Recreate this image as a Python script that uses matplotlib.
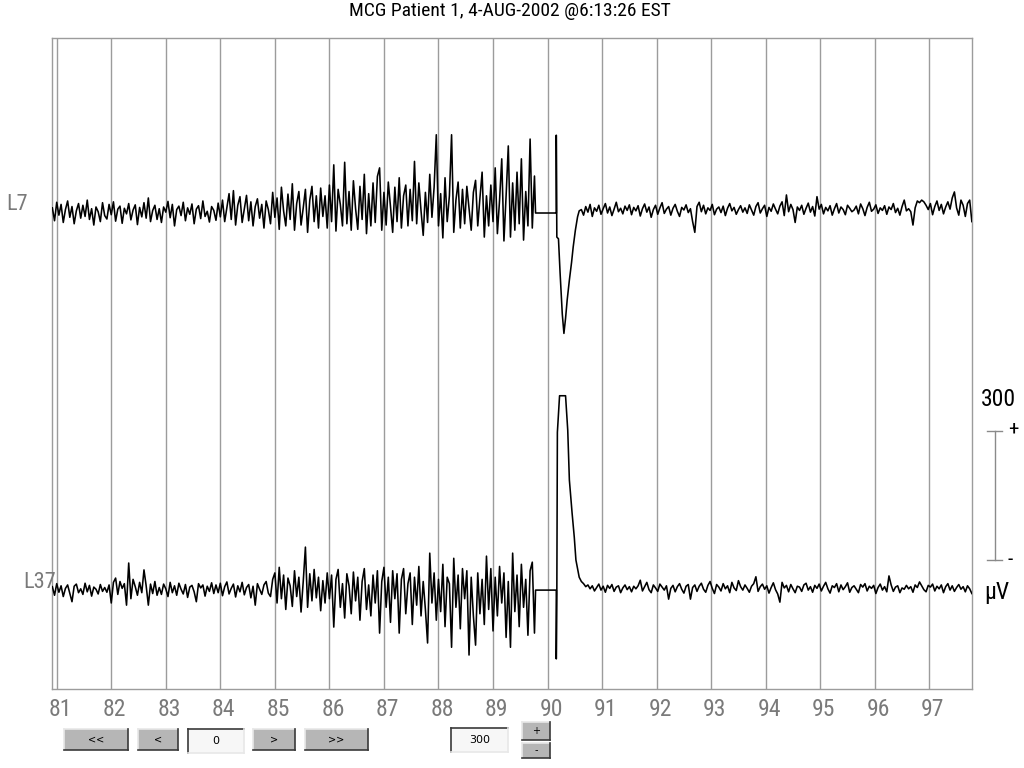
import numpy as np
import matplotlib
matplotlib.use("Agg")
import matplotlib.pyplot as plt
from matplotlib import font_manager as fm
from matplotlib.patches import Rectangle
from matplotlib.lines import Line2D

# ------------------------------ Data (µV, relative to channel baseline) ------------------------------

title = "MCG Patient 1, 4-AUG-2002 @6:13:26 EST"
channels = ["L7", "L37"]
seconds = list(range(81, 98))
dt = 0.04

# pre-event noise, sampled every 0.04 s from 80.92 s
l7_pre = [
    12, -18, 25, -5, 20, -22, 8, 28, -10, 15, -25, 5, 22, -12, 18, -8, 30, -15, 10, -28, 14, 3, -20, 24, -6,
    -14, 20, -4, 26, -19, 9, 16, -24, 11, -2, 22, -16, 7, 19, -27, 13, -9, 24, -12, 35, -20, 6, 18, -15, 10,
    -22, 14, 2, 27, -11, 20, -30, 8, 16, -6, 25, -18, 12, -3, 21, -25, 9, 17, -13, 28, -8, 4, -21, 15, 6,
    -17, 23, -9, 30, -20, 12, 45, -15, 52, -28, 18, 38, -22, 10, 41, -18, 26, -30, 15, 33, -12, 20, -35, 28, 8,
    -25, 48, -10, 35, -38, 60, 5, -30, 44, -15, 68, -40, 22, 50, -28, 12, 55, -45, 30, 62, -20, 40, -35, 58, -8,
    40, -35, 65, -20, 112, -42, 55, 20, -30, 118, -25, 50, -40, 75, 10, -38, 62, -15, 90, -48, 45, -30, 70, -22, 85,
    105, -40, 48, -28, 72, 15, -45, 60, -20, 82, -35, 40, 65, -30, 55, -18, 120, -25, 70, 5, -52, 48, -22, 90, -10,
    60, 182, -30, 45, -58, 82, -20, 40, 182, -45, 30, 72, -35, 55, -25, 62, 10, -40, 48, 76, -30, 35, 95, -56, 40,
    -30, 65, -20, 105, -48, 30, 126, -65, 40, 156, -56, 70, -40, 95, -25, 126, -63, 50, -30, 172, -35, 86,
]
l37_pre = [
    8, -12, 15, -5, 10, -15, 4, 12, -8, -27, 9, 14, -6, 3, -10, 16, -4, 11, -14, 7, 2, -9, 13, -3, 6,
    -5, 12, -30, 18, 28, -10, 20, 4, 15, -35, 63, -20, 25, 8, -12, 18, -6, 47, 10, -35, 14, -8, 20, -12, 6,
    -10, 14, 3, -15, 18, -6, 10, -12, 16, 2, -9, 13, -17, 7, 11, -4, -27, 15, 5, 12, -14, 9, -3, 17, -8,
    12, -6, 16, -13, 8, 19, -9, 4, 14, -16, 10, -4, 18, -11, 6, 13, -18, 9, -35, 15, 2, -10, 12, 20, -7,
    -15, 25, 40, -30, 53, -20, 35, -45, 28, 10, -38, 45, -15, 30, -51, 20, 100, -40, 38, -25, 48, -18, 30, -48, 22,
    -30, 40, -20, 35, -86, 25, 48, -40, 15, -65, 38, 10, -55, 42, -25, 30, -70, 20, 50, -45, 12, -60, 35, -30, 45,
    -100, 20, 53, -40, 30, -75, 45, -20, 38, -100, 25, 50, -55, 15, 40, -80, 30, -35, 55, -60, 20, -45, -123, 86, -30,
    40, -70, 25, -50, 60, -85, 30, 15, -133, 74, -40, 35, -90, 50, -20, 45, -151, 30, -60, -128, 40, -55, 25, -80, 79,
    -45, 50, -95, 30, -60, 55, -30, 40, -110, 20, -133, 86, -50, 35, -85, 60, -40, 25, -105, 45, 65, -100,
]

# event (stimulus artefact + response)
l7_evt_t = [89.78, 90.16, 90.16, 90.17, 90.20, 90.23, 90.27, 90.30, 90.33, 90.36, 90.40, 90.44, 90.47, 90.51, 90.55, 90.58]
l7_evt_v = [0, 0, 181, -56, -60, -140, -235, -280, -245, -202, -156, -115, -79, -40, -9, 5]
l37_evt_t = [89.78, 90.16, 90.16, 90.17, 90.18, 90.22, 90.33, 90.37, 90.40, 90.45, 90.49, 90.52, 90.58]
l37_evt_v = [0, 0, -160, -10, 367, 452, 452, 372, 256, 179, 123, 70, 30]

# post-event noise, sampled every 0.04 s from 90.62 s
l7_post = [
    8, -5, 15, 2, 20, -8, 12, 4, 18, -3, 10, 22, 0, 14, -6, 9, 25, 3, 11, -2, 16, 6, 19, -4, 13,
    5, 17, -7, 10, 21, 2, 14, -10, 8, 18, -3, 12, 24, -1, 9, 15, -5, 11, 20, 4, -8, 13, 7, 19, 1,
    10, -20, -45, 15, 25, 3, 18, -2, 12, 6, 20, -4, 9, 14, 1, 16, -6, 11, 22, 5, 13, -3, 8, 17, 2,
    12, -1, 19, 7, -5, 15, 24, 0, 10, 18, -8, 13, 4, 21, 9, -2, 16, 26, -6, 42, 3, 20, 8, -22, 14,
    6, 18, -3, 11, 23, 2, 15, -7, 38, 9, 20, -2, 13, 5, 17, -5, 10, 22, 0, 14, 8, -4, 18, 11, 3,
    7, 16, -2, 21, 10, -6, 13, 25, 4, 9, 19, -1, 12, 6, 17, -3, 14, 8, 22, 1, 11, -5, 15, 30, 5,
    10, 3, -28, 12, 28, 24, 30, 26, 18, 8, 22, -4, 15, 28, 6, 20, -2, 14, 26, 9, 35, 49, 12, -5, 30,
    18, -8, 22, 30, -20,
]
l37_post = [
    20, 15, 8, 12, 3, 10, -2, 6, 14, 0, 9, -5, 11, 4, 13, -3, 7, 10, -6, 5, 12, 1, 8, -4, 9,
    3, 10, 23, -2, 8, 18, 1, -6, 12, 5, -3, 14, 7, 0, 10, -21, 4, 11, -4, 8, 15, 2, -7, 9, 13,
    -21, 6, 12, -3, 9, 16, 2, -5, 11, 20, 4, -8, 13, 7, -2, 15, 3, 10, -6, 18, 5, -1, 22, 8, 0,
    12, 4, -5, 9, 15, 31, -3, 8, 14, 2, 10, -7, 6, 17, 1, -9, -28, 18, 5, 11, -4, 13, 3, -6, 9,
    7, -3, 12, 16, 0, 8, -5, 11, 4, 14, -2, 9, 18, 3, -7, 10, 6, 15, -4, 12, 1, 8, 17, -5, 6,
    10, 2, -6, 13, 7, 15, -2, 9, 4, 11, -8, 6, 14, 0, 8, -4, 33, 12, -3, 7, 10, -6, 5, 2, 11,
    3, 8, -5, 12, 6, 19, 10, 1, -4, 11, 7, 14, -2, 9, 3, 12, -6, 8, 15, 0, 10, -3, 6, 13, 2,
    8, -4, 10, 3, -8,
]

baselines = [1107, 230]      # channel offsets in µV on the shared axis
scale_uv = 300

# ------------------------------ Font: try a narrow sans (Arial Narrow look) ------------------------------

def narrow_font():
    entries = [f for f in fm.fontManager.ttflist
               if f.style == "normal" and f.weight in (400, "normal", "regular")]
    prefs = [lambda f: f.name == "Liberation Sans Narrow",
             lambda f: f.name == "Roboto Condensed",
             lambda f: f.name == "DejaVu Sans" and "Condensed" in f.fname and "Bold" not in f.fname,
             lambda f: f.name in ("Noto Sans", "Open Sans") and str(f.stretch) == "condensed",
             lambda f: "Condensed" in f.name or "Narrow" in f.name]
    for test in prefs:
        for f in entries:
            if test(f):
                return fm.FontProperties(fname=f.fname)
    return fm.FontProperties(family="Liberation Sans")

fp = narrow_font()

def ntext(x, y, s, size, color="black", **kw):
    prop = fp.copy()
    prop.set_size(size)
    return fig.text(x, y, s, fontproperties=prop, color=color, **kw)

# ------------------------------ Figure ------------------------------

W, H = 1024, 768
fig = plt.figure(figsize=(W / 100, H / 100), dpi=100)
fig.patch.set_facecolor("white")

ax = fig.add_axes([51.7 / W, (H - 689) / H, (972.3 - 51.7) / W, (689 - 38) / H])
ax.set_xlim(80.908, 97.788)
ax.set_ylim(0, 1514)

grid_c = "#9c9c9c"
for s in seconds:
    ax.axvline(s, color=grid_c, lw=1.0, zorder=1)
for sp in ax.spines.values():
    sp.set_color(grid_c)
    sp.set_linewidth(1.0)
ax.set_xticks([])
ax.set_yticks([])

t_pre = 80.92 + dt * np.arange(len(l7_pre))
t_post = 90.62 + dt * np.arange(len(l7_post))

traces = [(l7_pre, l7_evt_t, l7_evt_v, l7_post), (l37_pre, l37_evt_t, l37_evt_v, l37_post)]
for (pre, et, ev, post), base in zip(traces, baselines):
    t = np.concatenate([t_pre, et, t_post])
    v = np.concatenate([pre, ev, post]) + base
    ax.plot(t, v, color="black", lw=1.15, zorder=3)

# second labels under the axis
for s in seconds:
    x_fig = (51.7 + (s - 80.908) * 54.54 + 3.5) / W
    ntext(x_fig, 1 - 710 / H, str(s), 17, color="#7a7a7a", ha="center", va="center")

# channel names
ntext(17 / W, 1 - 204 / H, channels[0], 16, color="#7a7a7a", ha="center", va="center")
ntext(40 / W, 1 - 583 / H, channels[1], 16, color="#7a7a7a", ha="center", va="center")

ntext(510 / W, 1 - 16 / H, title, 14, ha="center", va="baseline")

# ------------------------------ Scale bar ------------------------------

xb = 98.2
bar_lo, bar_hi = 300, 300 + scale_uv
ax.plot([xb, xb], [bar_lo, bar_hi], color="#8a8a8a", lw=1.0, clip_on=False)
ax.plot([xb - 0.15, xb + 0.13], [bar_hi, bar_hi], color="#8a8a8a", lw=1.0, clip_on=False)
ax.plot([xb - 0.15, xb + 0.13], [bar_lo, bar_lo], color="#8a8a8a", lw=1.0, clip_on=False)
ntext(998 / W, 1 - 399 / H, str(scale_uv), 17, ha="center", va="center")
ntext(1013 / W, 1 - 429 / H, "+", 15, ha="center", va="center")
ntext(1010 / W, 1 - 560 / H, "-", 15, ha="center", va="center")
ntext(997 / W, 1 - 592 / H, "\u00b5V", 17, ha="center", va="center")

# ------------------------------ Control buttons ------------------------------

def box(x0, y0, x1, y1, label, sunken=False):
    face = "#f7f7f7" if sunken else "#b6b6b6"
    fig.patches.append(Rectangle((x0 / W, 1 - y1 / H), (x1 - x0) / W, (y1 - y0) / H,
                                 transform=fig.transFigure, facecolor=face, edgecolor="none"))
    dark, light = "#3a3a3a", "#e8e8e8"
    tl, br = (dark, light) if sunken else (light, dark)
    for xs, ys, c in [([x0, x1], [y0, y0], tl), ([x0, x0], [y0, y1], tl),
                      ([x0, x1], [y1, y1], br), ([x1, x1], [y0, y1], br)]:
        fig.lines.append(Line2D([x / W for x in xs], [1 - y / H for y in ys],
                                transform=fig.transFigure, color=c, lw=1.2))
    fig.text((x0 + x1) / 2 / W, 1 - (y0 + y1) / 2 / H, label, ha="center", va="center",
             fontsize=7 if not sunken else 8, color="black", family=["DejaVu Sans"])

box(64, 729, 128, 750, "<<")
box(138, 729, 178, 750, "<")
box(188, 729, 244, 753, "0", sunken=True)
box(253, 729, 295, 750, ">")
box(305, 729, 368, 750, ">>")
box(451, 728, 508, 752, "300", sunken=True)
box(522, 722, 550, 740, "+")
box(522, 743, 550, 758, "-")

fig.savefig("out.png", dpi=100)
